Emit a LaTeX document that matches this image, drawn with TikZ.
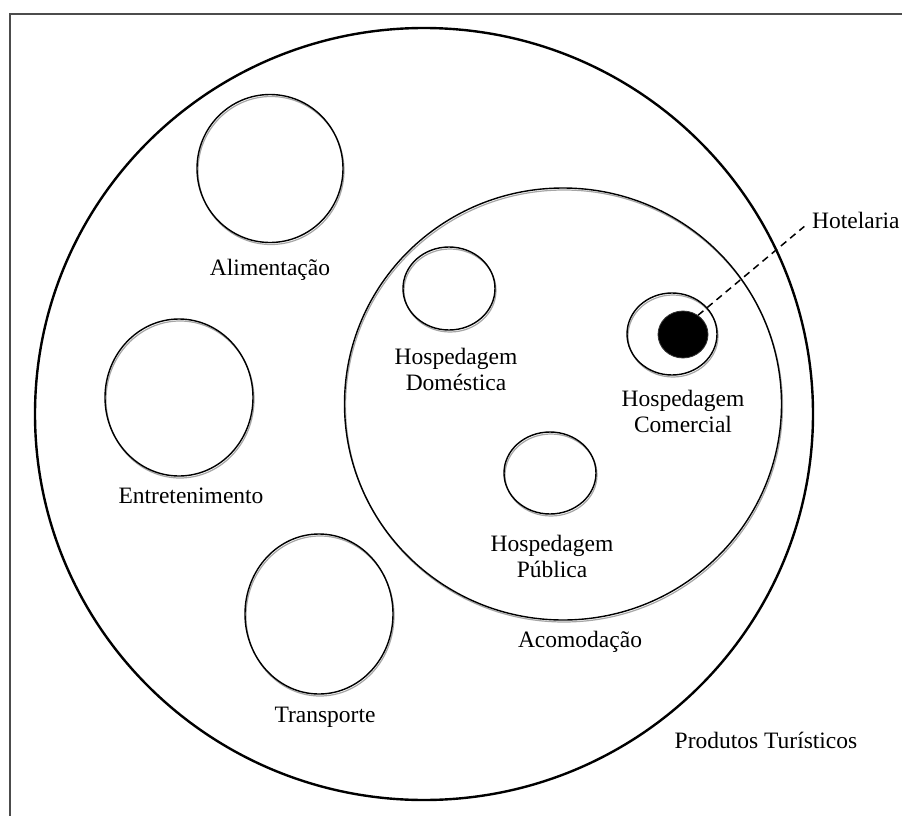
\documentclass[tikz,border=0pt]{standalone}
\usepackage{fontspec}
\setmainfont{Liberation Serif}
\usetikzlibrary{shapes.geometric}
\begin{document}
\begin{tikzpicture}[x=1pt,y=-1pt,
  lbl/.style={inner sep=0pt, align=center, font=\fontsize{23.5}{26}\selectfont},
  ring/.style={ellipse, draw=black, line width=1.4pt, inner sep=0pt},
  ringshade/.style={ellipse, draw=black!35, line width=1.2pt, inner sep=0pt},
  bigring/.style={ellipse, draw=black, line width=2.4pt, inner sep=0pt}]
\useasboundingbox (0,0) rectangle (902,816);
% frame
\draw[black!70, line width=1.8pt] (10,830) -- (10,14) -- (915,14);
% outer circle
\node[bigring, minimum width=778pt, minimum height=772pt] (prod) at (424,414) {};
% shaded double lines
\node[ringshade, minimum width=146pt, minimum height=148pt] at (271,170.5) {};
\node[ringshade, minimum width=148pt, minimum height=157pt] at (180,399.5) {};
\node[ringshade, minimum width=148pt, minimum height=160pt] at (320,616) {};
\node[ringshade, minimum width=437pt, minimum height=432pt] at (564,406) {};
\node[ringshade, minimum width=92pt, minimum height=83pt] at (450,290.5) {};
\node[ringshade, minimum width=92pt, minimum height=82pt] at (551,475) {};
\node[ringshade, minimum width=90pt, minimum height=82pt] at (673,336) {};
% circles
\node[ring, minimum width=146pt, minimum height=148pt] (alim) at (270,168.5) {};
\node[ring, minimum width=148pt, minimum height=157pt] (entr) at (179,397.5) {};
\node[ring, minimum width=148pt, minimum height=160pt] (trans) at (319,614) {};
\node[ring, minimum width=437pt, minimum height=432pt] (acom) at (563,404) {};
\node[ring, minimum width=92pt, minimum height=83pt] (dom) at (449,288.5) {};
\node[ring, minimum width=92pt, minimum height=82pt] (pub) at (550,473) {};
\node[ring, minimum width=90pt, minimum height=82pt] (com) at (672,334) {};
\node[ellipse, fill=black, draw=black!80, line width=0.8pt, inner sep=0pt, minimum width=50pt, minimum height=47pt] (hot) at (683,334.5) {};
% labels
\node[lbl] (lalim) at (270,270) {Alimentação};
\node[lbl] (lentr) at (191,496) {Entretenimento};
\node[lbl] (ltrans) at (325,717) {Transporte};
\node[lbl] (lacom) at (580,642) {Acomodação};
\node[lbl] (ldom) at (456,369) {Hospedagem\\Doméstica};
\node[lbl] (lpub) at (552,556) {Hospedagem\\Pública};
\node[lbl] (lcom) at (683,411) {Hospedagem\\Comercial};
\node[lbl] (lprod) at (766,740) {Produtos Turísticos};
\node[lbl, anchor=west] (lhot) at (812,220) {Hotelaria};
% dashed connector
\draw[dashed, dash pattern=on 7pt off 5pt, line width=1.5pt, shorten >=10pt] (hot.52) -- (lhot.west);
\end{tikzpicture}
\end{document}
